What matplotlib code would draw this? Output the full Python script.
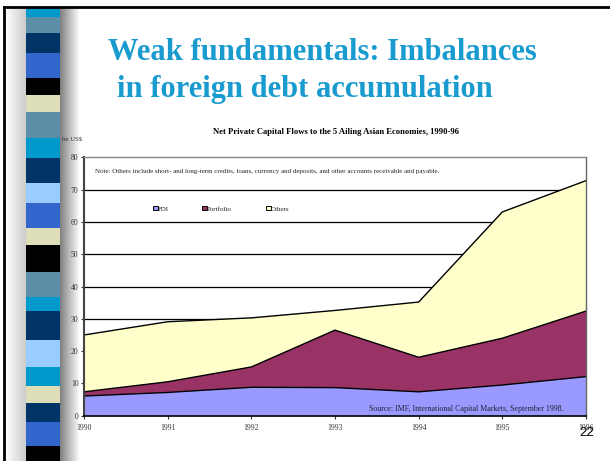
import matplotlib
matplotlib.use("Agg")
import matplotlib.pyplot as plt
import numpy as np
from matplotlib.patches import Rectangle

years = [1990, 1991, 1992, 1993, 1994, 1995, 1996]
fdi = [6.1, 7.2, 8.8, 8.7, 7.4, 9.5, 12.1]
portfolio = [1.3, 3.3, 6.3, 17.8, 10.7, 14.5, 20.3]
others = [17.6, 18.6, 15.2, 6.1, 17.1, 39.1, 40.4]
series_names = ["FDI", "Portfolio", "Others"]
series_colors = ["#9999FF", "#993366", "#FFFFCC"]
yticks = [0, 10, 20, 30, 40, 50, 60, 70, 80]

# decorative stripe on the slide's left side (top, bottom, colour)
stripe = [(8, 17, "#0099CC"), (17, 33, "#5B8FA8"), (33, 53, "#003366"), (53, 78, "#3366CC"),
          (78, 95, "#000000"), (95, 112, "#DDDDB8"), (112, 138, "#5B8FA8"), (138, 158, "#0099CC"),
          (158, 183, "#003366"), (183, 203, "#99CCFF"), (203, 228, "#3366CC"), (228, 245, "#DDDDB8"),
          (245, 272, "#000000"), (272, 297, "#5B8FA8"), (297, 311, "#0099CC"), (311, 340, "#003366"),
          (340, 367, "#99CCFF"), (367, 386, "#0099CC"), (386, 403, "#DDDDB8"), (403, 422, "#003366"),
          (422, 446, "#3366CC"), (446, 461, "#000000")]

W, H = 610, 461
fig = plt.figure(figsize=(6.1, 4.61), dpi=100)
fig.patch.set_facecolor("white")

bg = fig.add_axes([0, 0, 1, 1])
bg.axis("off")
# soft shading around the stripe
left_grad = np.linspace(1.0, 0.8, 50).reshape(1, -1)
bg.imshow(np.dstack([left_grad] * 3), extent=(5, 26, H, 8), aspect="auto", zorder=0)
right_grad = np.linspace(0.5, 1.0, 50).reshape(1, -1)
bg.imshow(np.dstack([right_grad] * 3), extent=(60, 80, H, 8), aspect="auto", zorder=0)
for top, bot, c in stripe:
    bg.add_patch(Rectangle((26, top), 34, bot - top, color=c, lw=0, zorder=1))
bg.plot([4, W], [7, 7], color="black", lw=2, zorder=2)
bg.plot([4, 4], [7, H], color="black", lw=2, zorder=2)
bg.set_xlim(0, W)
bg.set_ylim(H, 0)

fig.text(322 / W, 1 - 52 / H, "Weak fundamentals: Imbalances", ha="center", va="center",
         fontsize=22, fontweight="bold", family="Liberation Serif", color="#1A9BD0")
fig.text(117 / W, 1 - 89 / H, "in foreign debt accumulation", ha="left", va="center",
         fontsize=22, fontweight="bold", family="Liberation Serif", color="#1A9BD0")

fig.text(336 / W, 1 - 132 / H, "Net Private Capital Flows to the 5 Ailing Asian Economies, 1990-96",
         ha="center", va="center", fontsize=6.2, fontweight="bold", family="Liberation Serif")
fig.text(62 / W, 1 - 140 / H, "bn US$", ha="left", va="center", fontsize=4.8,
         family="Liberation Serif", color="#333333")

ax = fig.add_axes([84 / W, 1 - 415.7 / H, (586 - 84) / W, (415.7 - 157.4) / H])
ax.set_xlim(years[0], years[-1])
ax.set_ylim(0, 80)
for v in yticks[1:-1]:
    ax.axhline(v, color="black", lw=0.9, zorder=0)

stack = np.vstack([fdi, portfolio, others])
ax.stackplot(years, stack, colors=series_colors, edgecolor="none", zorder=1)
cum = np.cumsum(stack, axis=0)
for row in cum:
    ax.plot(years, row, color="black", lw=1.0, zorder=2)

ax.set_xticks(years)
ax.set_yticks(yticks)
ax.tick_params(labelsize=5.5, colors="#333333", length=2, width=0.8, pad=2)
ax.tick_params(axis="x", pad=4)
for lab in ax.get_xticklabels() + ax.get_yticklabels():
    lab.set_family("Liberation Serif")
ax.spines["left"].set_color("#444444")
ax.spines["left"].set_linewidth(1.5)
ax.spines["bottom"].set_color("black")
ax.spines["bottom"].set_linewidth(1.2)
ax.spines["top"].set_color("#888888")
ax.spines["top"].set_linewidth(1.0)
ax.spines["right"].set_color("#666666")
ax.spines["right"].set_linewidth(1.0)

ax.text(0.022, 75.7, "Note: Others include short- and long-term credits, loans, currency and deposits, "
        "and other accounts receivable and payable.", transform=ax.get_yaxis_transform(),
        fontsize=5.0, family="Liberation Serif", va="center", color="#222222")

leg_x = [153, 202, 266]
for name, c, lx in zip(series_names, series_colors, leg_x):
    fig.patches.append(Rectangle((lx / W, 1 - 210.5 / H), 4.5 / W, 4.5 / H, transform=fig.transFigure,
                                 facecolor=c, edgecolor="black", lw=0.7, figure=fig))
    fig.text((lx + 5) / W, 1 - 209.5 / H, name, ha="left", va="center", fontsize=5.0,
             family="Liberation Serif", color="#222222")

ax.text(1996 - 0.27, 2.0, "Source: IMF, International Capital Markets, September 1998.",
        ha="right", va="center", fontsize=5.7, family="Liberation Serif", color="#222233", zorder=3)

fig.text(587 / W, 1 - 433 / H, "22", ha="center", va="center", fontsize=9.5,
         family="Liberation Sans", color="black")

fig.savefig("out.png", dpi=100)
